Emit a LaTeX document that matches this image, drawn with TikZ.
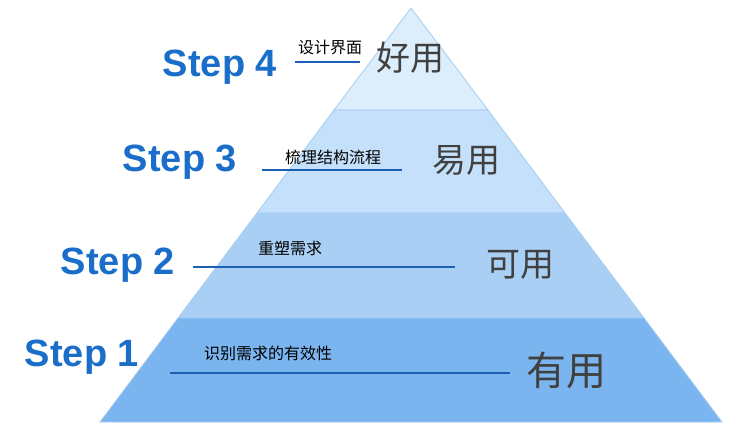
\documentclass[tikz,border=0pt]{standalone}
\usepackage{fontspec}
\setmainfont{Liberation Sans}
\newfontfamily\cjk{Noto Sans CJK SC}
\begin{document}
\begin{tikzpicture}[x=1pt,y=-1pt]
\definecolor{stepblue}{HTML}{1A6DC8}
\definecolor{ulblue}{HTML}{1A5FB4}
\definecolor{edgeb}{HTML}{A6CDF2}
\definecolor{c4}{HTML}{DCEDFC}
\definecolor{c3}{HTML}{C4E0FA}
\definecolor{c2}{HTML}{A9CFF5}
\definecolor{c1}{HTML}{7AB5F0}
\tikzset{steptxt/.style={font=\fontsize{38}{40}\selectfont\bfseries,text=stepblue,inner sep=0},
 small/.style={font=\cjk\fontsize{16}{18}\selectfont,inner sep=0},
 big/.style={font=\cjk\fontsize{34}{36}\selectfont,text=black!75,inner sep=0},
 ul/.style={draw=ulblue,line width=1.2pt},
 band/.style={draw=edgeb,line width=0.8pt}}
\useasboundingbox (0,0) rectangle (737,432);
\filldraw[band,fill=c4] (411,8) -- (334,110) -- (488,110) -- cycle;
\filldraw[band,fill=c3] (334,110) -- (257,213) -- (565,213) -- (488,110) -- cycle;
\filldraw[band,fill=c2] (257,213) -- (178,318) -- (644,318) -- (565,213) -- cycle;
\filldraw[band,fill=c1] (178,318) -- (100,422) -- (722,422) -- (644,318) -- cycle;
\node[steptxt] (s4) at (220,67) {Step 4};
\node[steptxt] (s3) at (180,162) {Step 3};
\node[steptxt] (s2) at (118,265) {Step 2};
\node[steptxt] (s1) at (82,357) {Step 1};
\node[small] (t4) at (330,47) {设计界面};
\node[small] (t3) at (333,157) {梳理结构流程};
\node[small] (t2) at (290,248) {重塑需求};
\node[small] (t1) at (268,353) {识别需求的有效性};
\coordinate (a4) at (295,62); \coordinate (b4) at (360,62);
\coordinate (a3) at (262,170); \coordinate (b3) at (402,170);
\coordinate (a2) at (193,267); \coordinate (b2) at (455,267);
\coordinate (a1) at (170,373); \coordinate (b1) at (510,373);
\draw[ul] (a4) -- (b4); \draw[ul] (a3) -- (b3);
\draw[ul] (a2) -- (b2); \draw[ul] (a1) -- (b1);
\node[big] (u4) at (410,58) {好用};
\node[big] (u3) at (466,160) {易用};
\node[big] (u2) at (520,265) {可用};
\node[big,font=\cjk\fontsize{40}{42}\selectfont] (u1) at (566,370) {有用};
\end{tikzpicture}
\end{document}
